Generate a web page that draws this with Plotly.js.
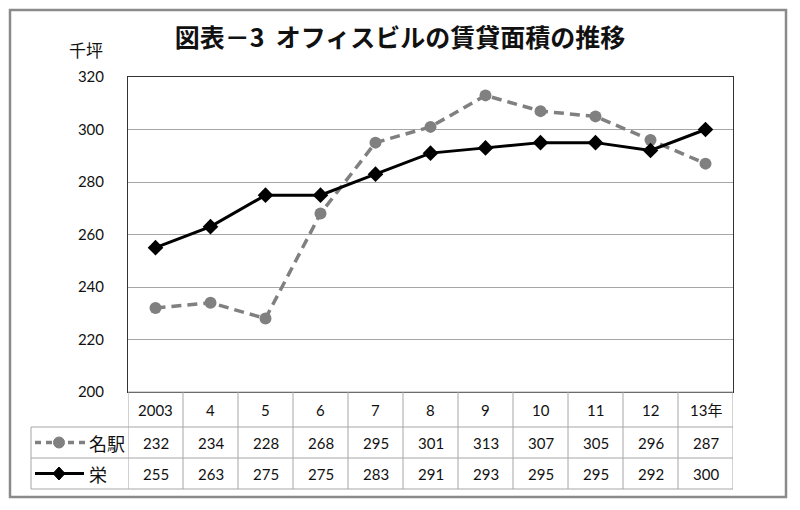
<!DOCTYPE html>
<html>
<head>
<meta charset="utf-8">
<script src="https://cdn.plot.ly/plotly-3.0.1.min.js"></script>
<style>
  body { margin: 0; background: #fff; }
  #chart { width: 800px; height: 510px; }
</style>
</head>
<body>
<div id="chart"></div>
<script>
// data
const years = ['2003', '4', '5', '6', '7', '8', '9', '10', '11', '12', '13年'];
const meieki = [232, 234, 228, 268, 295, 301, 313, 307, 305, 296, 287];
const sakae = [255, 263, 275, 275, 283, 291, 293, 295, 295, 292, 300];
const seriesNames = ['名駅', '栄'];

const numFont = "Lato, 'Noto Sans CJK JP', sans-serif";
const jpFont = "'Noto Sans CJK JP', sans-serif";
const gridCol = '#a6a6a6';

// pixel helpers for the table under the plot (plot area: 128..733 x, 77..392 y)
const L = 128, R = 733, T = 77, B = 392;
const px = (x) => (x - L) / (R - L);
const py = (y) => (B - y) / (B - T);

const rowLines = [392, 427, 458, 489];
const rowMid = [410, 442.5, 473.5];

var shapes = [];
var annotations = [];

// table horizontal lines
rowLines.forEach((y, i) => {
	shapes.push({
		type: 'line', xref: 'paper', yref: 'paper',
		x0: i == 0 ? 0 : px(31), x1: 1, y0: py(y), y1: py(y),
		line: { color: gridCol, width: 1 }
	});
});
// table vertical lines on category boundaries
for (var i = 0; i <= years.length; i++) {
	shapes.push({
		type: 'line', xref: 'x', yref: 'paper',
		x0: i - 0.5, x1: i - 0.5, y0: 0, y1: py(489),
		line: { color: gridCol, width: 1 }
	});
}
// left column border
shapes.push({
	type: 'line', xref: 'paper', yref: 'paper',
	x0: px(31), x1: px(31), y0: py(427), y1: py(489),
	line: { color: gridCol, width: 1 }
});

// legend samples in the left column
shapes.push({
	type: 'line', xref: 'paper', yref: 'paper',
	x0: px(35), x1: px(85), y0: py(rowMid[1]), y1: py(rowMid[1]),
	line: { color: '#808080', width: 3.5, dash: '6px,5px' }
});
shapes.push({
	type: 'circle', xref: 'paper', yref: 'paper',
	xsizemode: 'pixel', ysizemode: 'pixel',
	xanchor: px(59), yanchor: py(rowMid[1]),
	x0: -5.5, x1: 5.5, y0: -5.5, y1: 5.5,
	fillcolor: '#808080', line: { color: '#808080', width: 1 }
});
shapes.push({
	type: 'line', xref: 'paper', yref: 'paper',
	x0: px(35), x1: px(84), y0: py(rowMid[2]), y1: py(rowMid[2]),
	line: { color: '#000', width: 3 }
});
shapes.push({
	type: 'path', xref: 'paper', yref: 'paper',
	xsizemode: 'pixel', ysizemode: 'pixel',
	xanchor: px(59), yanchor: py(rowMid[2]),
	path: 'M 0 6.5 L 6 0 L 0 -6.5 L -6 0 Z',
	fillcolor: '#000', line: { color: '#000', width: 1 }
});

// outer chart frame
shapes.push({
	type: 'rect', xref: 'paper', yref: 'paper',
	x0: px(10), x1: px(786), y0: py(10), y1: py(497),
	line: { color: '#8a8a8a', width: 2.5 }
});

// table text
const cellFont = { family: numFont, size: 15, color: '#111' };
years.forEach((yr, i) => {
	annotations.push({ x: i, y: py(rowMid[0]), xref: 'x', yref: 'paper', yanchor: 'middle',
		text: yr, showarrow: false, font: cellFont });
	annotations.push({ x: i, y: py(rowMid[1]), xref: 'x', yref: 'paper', yanchor: 'middle',
		text: String(meieki[i]), showarrow: false, font: cellFont });
	annotations.push({ x: i, y: py(rowMid[2]), xref: 'x', yref: 'paper', yanchor: 'middle',
		text: String(sakae[i]), showarrow: false, font: cellFont });
});
seriesNames.forEach((nm, k) => {
	annotations.push({ x: px(87), y: py(rowMid[k + 1]), xref: 'paper', yref: 'paper',
		xanchor: 'left', yanchor: 'middle',
		text: nm, showarrow: false, font: { family: jpFont, size: 18, color: '#111' } });
});
// unit label
annotations.push({ x: px(86), y: py(49), xref: 'paper', yref: 'paper', xanchor: 'center', yanchor: 'middle',
	text: '千坪', showarrow: false, font: { family: jpFont, size: 17, color: '#111' } });

const idx = years.map((y, i) => i);

var traces = [
	{
		x: idx, y: meieki, name: seriesNames[0], type: 'scatter', mode: 'lines+markers',
		line: { color: '#808080', width: 3.5, dash: '10px,6px' },
		marker: { symbol: 'circle', size: 12, color: '#808080' }
	},
	{
		x: idx, y: sakae, name: seriesNames[1], type: 'scatter', mode: 'lines+markers',
		line: { color: '#000', width: 3 },
		marker: { symbol: 'diamond', size: 12, color: '#000' }
	}
];

var layout = {
	width: 800, height: 510,
	margin: { l: L, r: 800 - R, t: T, b: 510 - B },
	paper_bgcolor: '#fff', plot_bgcolor: '#fff',
	showlegend: false,
	title: {
		text: '<b>図表－3  オフィスビルの賃貸面積の推移</b>',
		x: 0.5, xref: 'container', y: 1 - 38 / 510, yref: 'container', yanchor: 'middle',
		font: { family: jpFont, size: 25, color: '#111' }
	},
	xaxis: {
		type: 'linear', range: [-0.5, years.length - 0.5],
		showticklabels: false, showgrid: false, zeroline: false,
		showline: true, mirror: true, linecolor: '#333', linewidth: 1
	},
	yaxis: {
		range: [200, 320], dtick: 20, tick0: 200,
		showgrid: true, gridcolor: gridCol, gridwidth: 1, zeroline: false,
		showline: true, mirror: true, linecolor: '#333', linewidth: 1,
		ticks: '', ticklabelstandoff: 20,
		tickfont: { family: numFont, size: 15, color: '#111' }
	},
	shapes: shapes,
	annotations: annotations
};

Plotly.newPlot('chart', traces, layout, { displayModeBar: false, staticPlot: true });
</script>
</body>
</html>
